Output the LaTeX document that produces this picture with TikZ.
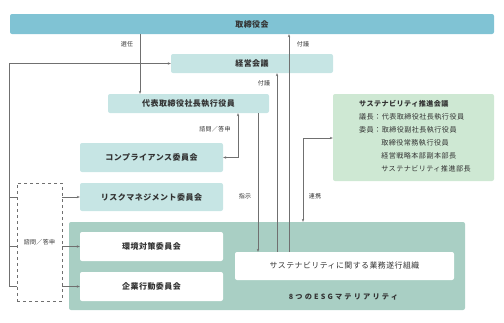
\documentclass[tikz,border=0pt]{standalone}
\usepackage{fontspec}
\setmainfont{Noto Sans CJK JP}[LetterSpace=6]
\usetikzlibrary{arrows.meta,positioning,calc}
\definecolor{ink}{HTML}{333333}
\definecolor{wire}{HTML}{707070}
\definecolor{board}{HTML}{80C3D4}
\definecolor{pale}{HTML}{C6E5E4}
\definecolor{esg}{HTML}{A9CFC4}
\definecolor{promo}{HTML}{CEE8D3}

\begin{document}
\begin{tikzpicture}[
  x=1pt,y=-1pt,
  every node/.style={font=\fontsize{6.5}{8}\selectfont,text=ink},
  body/.style={rounded corners=2pt,inner sep=0pt,font=\fontsize{8}{9}\selectfont\bfseries},
  committee/.style={body,fill=pale,minimum width=143pt,minimum height=29pt},
  plain/.style={body,fill=white,minimum width=143pt,minimum height=29pt},
  tag/.style={font=\fontsize{6}{7}\selectfont},
  line/.style={wire,line width=0.6pt},
  arrow/.style={line,-{Stealth[length=3pt,width=2.4pt]}},
  twoway/.style={line,{Stealth[length=3pt,width=2.4pt]}-{Stealth[length=3pt,width=2.4pt]}}
]
\useasboundingbox (0,0) rectangle (504,322);

% boxes
\node[body,fill=board,minimum width=484pt,minimum height=20pt] (board) at (252,24) {取締役会};
\node[body,fill=pale,minimum width=162pt,minimum height=19pt] (mgmt) at (252,63.5) {経営会議};
\node[body,fill=pale,minimum width=161pt,minimum height=19pt] (ceo) at (188.5,103.5) {代表取締役社長執行役員};
\node[committee] (comp) at (151.5,157.5) {コンプライアンス委員会};
\node[committee,minimum height=28pt] (risk) at (151.5,197) {リスクマネジメント委員会};
\node[body,fill=esg,minimum width=396pt,minimum height=88pt] (esg) at (267,266) {};
\node[plain] (env) at (151.5,246.5) {環境対策委員会};
\node[plain] (corp) at (151.5,286.5) {企業行動委員会};
\node[plain,minimum width=219pt,minimum height=28pt,font=\fontsize{7.9}{9}\selectfont] (ops) at (344.5,266) {サステナビリティに関する業務遂行組織};
\node[body,font=\fontsize{7.2}{8}\selectfont\bfseries\addfontfeature{LetterSpace=30}] (mat) at (343.5,297) {8つのESGマテリアリティ};
\node[body,fill=promo,minimum width=161pt,minimum height=87pt] (promo) at (413.5,137.5) {};
\node[anchor=north west,align=left,inner sep=0pt,font=\fontsize{7.1}{13}\selectfont] (members) at (359,100.5)
  {{\bfseries サステナビリティ推進会議}\\
   議長：代表取締役社長執行役員\\
   委員：取締役副社長執行役員\\
   \phantom{委員：}取締役常務執行役員\\
   \phantom{委員：}経営戦略本部副本部長\\
   \phantom{委員：}サステナビリティ推進部長};
\node[draw=wire,dashed,line width=0.5pt,minimum width=45pt,minimum height=118pt,inner sep=0pt] (ask) at (39.5,242) {};
\node[tag] at (ask.center) {諮問／答申};

% columns
\coordinate (cA) at (140,0);
\coordinate (cB) at (238,0);
\coordinate (cC) at (258,0);
\coordinate (cD) at (277,0);
\coordinate (cE) at (289,0);
\coordinate (cF) at (303,0);
\coordinate (cL) at (9,0);
\coordinate (link) at (0,138);

% connectors
\draw[arrow] (board.south -| cA) -- (ceo.north -| cA);
\draw[twoway] (ceo.south -| cB) |- (comp.east);
\draw[arrow] (ceo.south -| cC) -- (ops.north -| cC);
\draw[arrow] (ops.north -| cD) -- (mgmt.south -| cD);
\draw[arrow] (ops.north -| cE) -- (board.south -| cE);
\draw[twoway] (promo.west |- link) -| (esg.north -| cF);
\draw[arrow] (ask.west |- corp) -| (cL |- mgmt) -- (mgmt.west);
\draw[line] (cL |- risk) -- (ask.west |- risk);
\draw[line] (cL |- env) -- (ask.west |- env);
\foreach \n in {risk,env,corp}
  \draw[arrow] (ask.east |- \n) -- (\n.west);

% labels
\node[tag] at (127,44) {選任};
\node[tag] at (303,44) {付議};
\node[tag] at (264,83) {付議};
\node[tag] at (215,129) {諮問／答申};
\node[tag] at (245,196) {指示};
\node[tag] at (315,196) {連携};
\end{tikzpicture}
\end{document}
